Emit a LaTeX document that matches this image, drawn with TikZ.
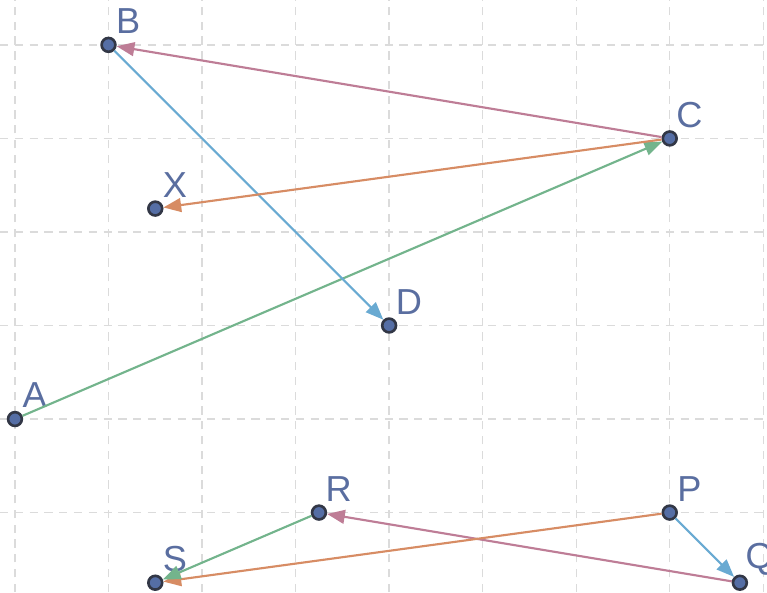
\documentclass[tikz,border=0pt]{standalone}
\usepackage{fontspec}
\setmainfont{Liberation Sans}
\usetikzlibrary{arrows.meta}
\definecolor{edgepink}{RGB}{190,125,150}
\definecolor{edgeblue}{RGB}{105,170,210}
\definecolor{edgegreen}{RGB}{115,180,140}
\definecolor{edgeorange}{RGB}{215,140,100}
\definecolor{dotfill}{RGB}{85,110,165}
\definecolor{dotline}{RGB}{50,55,70}
\definecolor{lblcol}{RGB}{90,110,160}
\tikzset{
  pt/.style={circle, fill=dotfill, draw=dotline, line width=0.8pt,
    inner sep=0pt, minimum size=4.2pt},
  lbl/.style={text=lblcol, font=\fontsize{11}{13}\selectfont, anchor=center,
    label distance=0.24cm},
  vec/.style={line width=0.65pt, -{Triangle[length=5.4pt,width=4.2pt]}},
  gridln/.style={gray!28, line width=0.4pt, dash pattern=on 2.5pt off 2pt}
}
\begin{document}
\begin{tikzpicture}
\useasboundingbox (-0.16,-1.85) rectangle (8.04,4.48);
\foreach \x in {0,...,8}
{
    \draw[gridln] (\x,-1.85) -- (\x,4.48);
}
\foreach \y in {-1,...,4}
{
    \draw[gridln] (-0.16,\y) -- (8.04,\y);
}
\foreach \n/\x/\y in {A/0/0, B/1/4, C/7/3, X/1.5/2.25, D/4/1,
                      P/7/-1, Q/7.75/-1.75, R/3.25/-1, S/1.5/-1.75}
{
    \node[pt, label={[lbl]50:\n}] (\n) at (\x,\y) {};
}
\draw[vec, edgegreen] (A) -- (C);
\draw[vec, edgepink] (C) -- (B);
\draw[vec, edgeblue] (B) -- (D);
\draw[vec, edgeorange] (C) -- (X);
\draw[vec, edgeblue] (P) -- (Q);
\draw[vec, edgepink] (Q) -- (R);
\draw[vec, edgeorange] (P) -- (S);
\draw[vec, edgegreen] (R) -- (S);
\end{tikzpicture}
\end{document}
